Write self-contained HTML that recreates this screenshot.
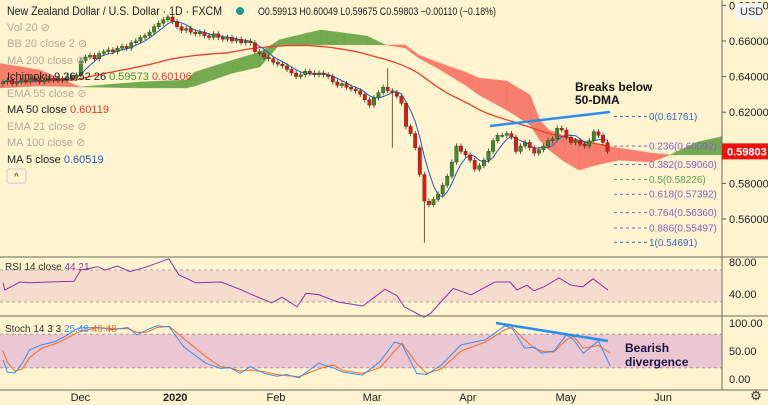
<!DOCTYPE html>
<html><head><meta charset="utf-8"><style>
body{margin:0;background:#fef4cf;}
svg{display:block;font-family:"Liberation Sans",sans-serif;}
</style></head><body>
<svg id="c" width="768" height="405" viewBox="0 0 768 405">
<rect x="0" y="0" width="768" height="405" fill="#fef4cf"/>
<g id="bands"></g>
<g id="cloud"></g>
<g id="lines"></g>
<g id="candles"></g>
<g id="over"></g>
<g id="axes"></g>
</svg>
<script>
// ---- data ----
const closes = [
0.637,0.638,0.636,0.637,0.638,0.637,0.639,0.638,0.637,0.638,0.639,0.638,0.639,0.638,0.640,0.639,0.641,0.649,
0.651,0.652,0.650,0.653,0.654,0.655,0.654,0.656,0.657,0.656,0.659,0.660,0.662,0.663,0.665,0.668,0.670,0.672,0.6735,
0.671,0.668,0.666,0.667,0.665,0.664,0.665,0.663,0.662,0.664,0.662,0.661,0.662,0.660,0.661,0.659,0.660,0.659,
0.654,0.653,0.651,0.650,0.648,0.647,0.646,0.644,0.642,0.640,0.641,0.643,0.642,0.641,0.642,0.641,0.640,
0.637,0.635,0.636,0.634,0.633,0.632,0.630,0.627,0.624,0.628,0.631,0.634,0.632,0.631,0.629,0.625,
0.612,0.608,0.600,0.585,0.570,0.568,0.571,0.574,0.579,0.584,0.592,0.601,0.598,0.596,0.593,0.588,
0.590,0.593,0.598,0.604,0.607,0.607,0.608,0.606,0.598,0.601,0.603,0.600,0.597,0.599,0.601,0.604,
0.605,0.611,0.610,0.606,0.603,0.604,0.602,0.601,0.604,0.609,0.607,0.603,0.598];
const priceTicks = [0.68,0.66,0.64,0.62,0.58,0.56,0.54];
const fibLevels = [0,0.236,0.382,0.5,0.618,0.764,0.886,1];
const fibPrices = [0.61761,0.60092,0.59060,0.58226,0.57392,0.56360,0.55497,0.54691];
// Ichimoku cloud (bar index, span A, span B)
const cloudIdx = [-1,8.1,16.8,29.9,40,41.9,50.2,56.1,60.3,66.4,69.4,74.5,79.5,83.6,87.8,90.8,94.8,100.9,103.9,110,115.1,117.2,119.2,122.7,125.8,129.5,134.5,141.5,145.6,151.7,157.5];
const spanA = [0.6336,0.6347,0.6342,0.6370,0.6381,0.6426,0.6493,0.6538,0.6606,0.6645,0.6662,0.6645,0.6628,0.6578,0.6561,0.6504,0.6448,0.6353,0.6297,0.6212,0.6128,0.6044,0.5988,0.5920,0.5875,0.5903,0.5931,0.5920,0.5960,0.6033,0.6066];
const spanB = [0.6476,0.6437,0.6342,0.6336,0.6336,0.6347,0.6420,0.6454,0.6578,0.6578,0.6578,0.6578,0.6578,0.6578,0.6578,0.6521,0.6481,0.6426,0.6392,0.6375,0.6297,0.6156,0.6100,0.6066,0.6044,0.6021,0.5999,0.5971,0.5960,0.5960,0.5960];
// RSI
const rsiIdx = [0,0.4,3.7,5.7,10,15.5,17,20.7,22.3,25,27.7,31.4,36.2,38.4,42.1,47.6,51.7,54.4,58.7,60.9,64.2,66.2,69,73.1,78.6,83.4,86,87.6,91.9,93.4,95.6,98.3,102.2,107.4,110.7,112.2,114.4,115.9,118.1,121.4,124,126.6,128.8,132.1];
const rsiVals = [54,45,55,54,55,56,70,74,70,75,68,74,84,64,54,55,46,39,29,36,24,41,39,30,25,46,38,24,11,16,30,47,39,55,55,45,51,44,49,60,51,49,59,45];
// Stochastic
const stIdx = [0,0.95,2.6,4.2,5.8,8.4,11.1,13.3,16.5,20.7,24,27.2,29.3,31.5,33.6,36.3,39.5,44.3,47.5,49.6,51.8,53.9,57.1,59.8,61.9,64.6,68.9,72.1,74.3,78.5,82.3,85.5,87.1,90.3,92.5,95.7,100,105.3,109.6,111.2,113.9,116,117.6,120.3,123,124.6,126.7,130,132.6];
const stK = [34,12,11,28,52,61,66,75,91,92,88,92,79,88,95,93,57,28,19,20,10,22,10,5,8,2,28,20,12,7,31,66,62,10,8,25,61,70,95,90,55,57,46,50,79,70,46,68,23];
const stD = [50,30,14,18,38,55,62,70,84,92,90,90,83,84,92,94,72,40,22,20,14,16,13,8,6,4,18,25,15,10,20,50,64,28,10,18,50,66,88,92,70,55,50,48,70,76,55,60,46];
const rsiTicks = [80,40];
const stochTicks = [100,50,0];
const monthLabels = ["Dec","2020","Feb","Mar","Apr","May","Jun"];
const monthIndex = [16.9,37.6,59.6,80.6,101.5,122.9,144.1];

// ---- scales ----
const X0=3, STEP=4.58;
const xs=i=>X0+i*STEP;
const yP=p=>41+(0.66-p)*1780;
const yR=v=>262+(80-v)*0.8;
const yS=v=>323+(100-v)*0.56;
const NS="http://www.w3.org/2000/svg";
function mk(tag,attrs,parent,text){const e=document.createElementNS(NS,tag);for(const k in attrs)e.setAttribute(k,attrs[k]);if(text!==undefined)e.textContent=text;document.getElementById(parent).appendChild(e);return e;}
const n=closes.length;
const opens=closes.map((c,i)=>i?closes[i-1]:c-0.001);
const highs=closes.map((c,i)=>Math.max(c,opens[i])+0.0015);
const lows=closes.map((c,i)=>Math.min(c,opens[i])-0.0015);
lows[92]=0.5467; highs[84]=0.6447; lows[85]=0.6000;

let e;
e=mk('rect',{x:0,y:yR(70),width:722,height:yR(30)-yR(70),fill:'#f6dccd'},'bands');

e=mk('rect',{x:0,y:yS(80),width:722,height:yS(20)-yS(80),fill:'#ebc6d3'},'bands');

[yR(70),yR(30),yS(80),yS(20)].forEach(y=>{e=mk('line',{x1:0,x2:722,y1:y,y2:y,stroke:'#9c8c9c','stroke-dasharray':'3,3','stroke-width':0.8},'bands');});

function seg(i0,a0,b0,i1,a1,b1){
  const green=(a0+a1)>=(b0+b1);
  e=mk('polygon',{points:`${xs(i0)},${yP(a0)} ${xs(i1)},${yP(a1)} ${xs(i1)},${yP(b1)} ${xs(i0)},${yP(b0)}`,fill:green?'#5d9e3a':'#f86a5c',stroke:green?'#5d9e3a':'#f86a5c','stroke-width':0.4,opacity:0.85},'cloud');
  
}
for(let k=0;k<cloudIdx.length-1;k++){
  const d0=spanA[k]-spanB[k],d1=spanA[k+1]-spanB[k+1];
  if(d0*d1<0){const t=d0/(d0-d1);const ic=cloudIdx[k]+t*(cloudIdx[k+1]-cloudIdx[k]);const pc=spanA[k]+t*(spanA[k+1]-spanA[k]);
    seg(cloudIdx[k],spanA[k],spanB[k],ic,pc,pc);seg(ic,pc,pc,cloudIdx[k+1],spanA[k+1],spanB[k+1]);}
  else seg(cloudIdx[k],spanA[k],spanB[k],cloudIdx[k+1],spanA[k+1],spanB[k+1]);
}
function sma(p){return closes.map((c,i)=>{let s=0,k0=Math.max(0,i-p+1);for(let k=k0;k<=i;k++)s+=closes[k];return s/(i-k0+1);});}
const ma50=sma(50), ma5=sma(5);
e=mk('polyline',{points:ma50.map((v,i)=>xs(i)+','+yP(v)).join(' '),fill:'none',stroke:'#ee3b2c','stroke-width':1.3},'lines');

e=mk('polyline',{points:ma5.map((v,i)=>xs(i)+','+yP(v)).join(' '),fill:'none',stroke:'#2459c7','stroke-width':1},'lines');


for(let i=0;i<n;i++){
  const up=closes[i]>=opens[i],x=xs(i);
  const col=up?'#3c8a2c':'#e8141a';
  e=mk('line',{x1:x,x2:x,y1:yP(highs[i]),y2:yP(lows[i]),stroke:'#3a3a2a','stroke-width':0.8},'candles');
  
  const t=yP(Math.max(opens[i],closes[i])),b=yP(Math.min(opens[i],closes[i]));
  e=mk('rect',{x:x-1.7,y:t,width:3.4,height:Math.max(1,b-t),fill:col,stroke:'#2a3a1a','stroke-width':0.4},'candles');
  
}

e=mk('polyline',{points:rsiVals.map((v,k)=>xs(rsiIdx[k])+','+yR(v)).join(' '),fill:'none',stroke:'#8c30a8','stroke-width':1},'lines');

e=mk('polyline',{points:stD.map((v,k)=>xs(stIdx[k])+','+yS(v)).join(' '),fill:'none',stroke:'#f26d1e','stroke-width':1},'lines');

e=mk('polyline',{points:stK.map((v,k)=>xs(stIdx[k])+','+yS(v)).join(' '),fill:'none',stroke:'#3d8cf0','stroke-width':1},'lines');


const fibCol=['#3a6bc0','#8a5fc0','#8a5fc0','#5aa04a','#8a5fc0','#8a5fc0','#8a5fc0','#3a6bc0'];
fibPrices.forEach((p,k)=>{
  const y=yP(p);
  e=mk('line',{x1:614,x2:648,y1:y,y2:y,stroke:fibCol[k],'stroke-dasharray':'3,3','stroke-width':1},'over');
  
  e=mk('text',{x:649,y:y+3.5,fill:fibCol[k],'font-size':10},'over',fibLevels[k]+'('+p.toFixed(5)+')');
  
});
e=mk('line',{x1:490,y1:126,x2:610,y2:112,stroke:'#2a8ef0','stroke-width':2.5},'over');

e=mk('line',{x1:496,y1:323,x2:608,y2:341,stroke:'#2a8ef0','stroke-width':2.5},'over');

e=mk('text',{x:575,y:91,'font-size':12,'font-weight':'bold',fill:'#111'},'over','Breaks below');

e=mk('text',{x:575,y:104,'font-size':12,'font-weight':'bold',fill:'#111'},'over','50-DMA');

e=mk('text',{x:625,y:352,'font-size':12,'font-weight':'bold',fill:'#1a1240'},'over','Bearish');

e=mk('text',{x:625,y:366,'font-size':12,'font-weight':'bold',fill:'#1a1240'},'over','divergence');


e=mk('rect',{x:722,y:0,width:46,height:405,fill:'#fef4cf'},'axes');
e=mk('line',{x1:722,x2:722,y1:0,y2:390,stroke:'#6b6b5b','stroke-width':1},'axes');
[257,316,390].forEach(y=>{e=mk('line',{x1:0,x2:768,y1:y,y2:y,stroke:'#6b6b5b','stroke-width':1},'axes');});
e=mk('rect',{x:0,y:391,width:722,height:14,fill:'#fef4cf'},'axes');
priceTicks.forEach(p=>{const y=yP(p);if(y>254)return;
  e=mk('line',{x1:722,x2:726,y1:y,y2:y,stroke:'#555'},'axes');
  e=mk('text',{x:729,y:y+4,'font-size':11,fill:'#222'},'axes',p.toFixed(5));});
e=mk('rect',{x:736,y:3,width:27,height:16,rx:2,fill:'#f4f4f4'},'axes');
e=mk('text',{x:740,y:15,'font-size':11,fill:'#333'},'axes','USD');
const last=closes[n-1];
e=mk('rect',{x:722,y:yP(last)-8,width:46,height:16,fill:'#f01010'},'axes');
e=mk('text',{x:727,y:yP(last)+4,'font-size':11,'font-weight':'bold',fill:'#fff'},'axes','0.59803');
rsiTicks.forEach(v=>{e=mk('text',{x:729,y:yR(v)+4,'font-size':11,fill:'#222'},'axes',v.toFixed(2));});
stochTicks.forEach(v=>{e=mk('text',{x:729,y:yS(v)+4,'font-size':11,fill:'#222'},'axes',v.toFixed(2));});
monthLabels.forEach((m,k)=>{const x=xs(monthIndex[k]);
  e=mk('text',{x:x,y:401,'font-size':11,'text-anchor':'middle',fill:'#222','font-weight':m==='2020'?'bold':'normal'},'axes',m);
  });
e=mk('text',{x:756,y:400,'font-size':13,'text-anchor':'middle',fill:'#333'},'axes','⚙');

const leg=[
 [7,31,[['Vol 20 ⊘','#b5ab98',11]]],
 [7,47,[['BB 20 close 2 ⊘','#b5ab98',11]]],
 [7,64,[['MA 200 close ⊘','#b5ab98',11]]],
 [7,80,[['Ichimoku 9 26 52 26 ','#222',11],['0.59573 ','#3a9a2a',11],['0.60106','#e03a2a',11]]],
 [7,97,[['EMA 55 close ⊘','#b5ab98',11]]],
 [7,113,[['MA 50 close ','#222',11],['0.60119','#e03a2a',11]]],
 [7,130,[['EMA 21 close ⊘','#b5ab98',11]]],
 [7,146,[['MA 100 close ⊘','#b5ab98',11]]],
 [7,163,[['MA 5 close ','#222',11],['0.60519','#2459c7',11]]],
 [5,270,[['RSI 14 close ','#333',10],['44.21','#8c30a8',10]]],
 [5,332,[['Stoch 14 3 3 ','#333',10],['25.48 ','#3d8cf0',10],['46.48','#f26d1e',10]]]
];
leg.forEach(r=>{const t=mk('text',{x:r[0],y:r[1]},'over');
 r[2].forEach(s=>{const ts=document.createElementNS(NS,'tspan');ts.setAttribute('fill',s[1]);ts.setAttribute('font-size',s[2]);ts.textContent=s[0];t.appendChild(ts);});});
e=mk('text',{x:7,y:15,'font-size':12,fill:'#222',textLength:215,lengthAdjust:'spacingAndGlyphs'},'over','New Zealand Dollar / U.S. Dollar · 1D · FXCM');
e=mk('text',{x:258,y:15,'font-size':11,fill:'#222',textLength:238,lengthAdjust:'spacingAndGlyphs'},'over','O0.59913 H0.60049 L0.59675 C0.59803 −0.00110 (−0.18%)');
e=mk('circle',{cx:240,cy:11,r:4,fill:'#1a9c8c'},'over');
e=mk('rect',{x:7,y:169,width:19,height:14,rx:2,fill:'none',stroke:'#ccc'},'over');
e=mk('text',{x:16.5,y:180,'font-size':10,'text-anchor':'middle',fill:'#333'},'over','^');
</script>
</body></html>
